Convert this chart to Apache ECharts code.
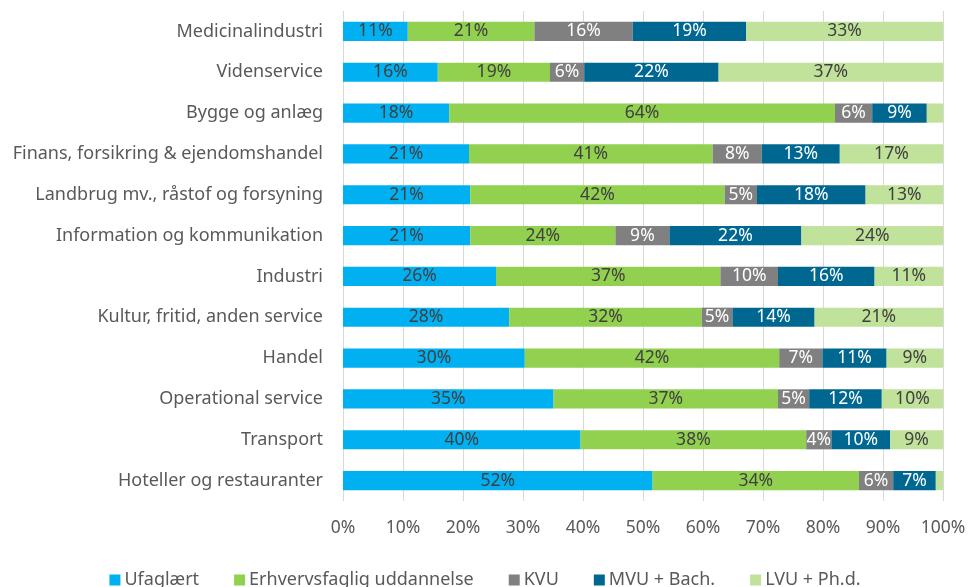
<!DOCTYPE html>
<html><head><meta charset="utf-8">
<script src="https://cdn.jsdelivr.net/npm/echarts@6/dist/echarts.min.js"></script>
<style>html,body{margin:0;padding:0;background:#fff}#c{width:970px;height:587px}</style>
</head><body><div id="c"></div>
<script>
const categories = ["Medicinalindustri","Videnservice","Bygge og anlæg","Finans, forsikring & ejendomshandel","Landbrug mv., råstof og forsyning","Information og kommunikation","Industri","Kultur, fritid, anden service","Handel","Operational service","Transport","Hoteller og restauranter"];
const seriesNames = ["Ufaglært","Erhvervsfaglig uddannelse","KVU","MVU + Bach.","LVU + Ph.d."];
const ufaglaert = [10.8,15.8,17.7,21.0,21.2,21.2,25.5,27.7,30.3,35.1,39.6,51.6];
const erhvervsfaglig = [21.1,18.7,64.3,40.6,42.4,24.2,37.4,32.1,42.4,37.4,37.6,34.4];
const kvu = [16.4,5.7,6.2,8.2,5.4,9.0,9.6,5.1,7.2,5.2,4.2,5.7];
const mvu = [18.9,22.4,9.1,13.0,18.1,22.0,16.1,13.7,10.7,12.1,9.8,7.1];
const lvu = [32.8,37.4,2.7,17.2,12.9,23.6,11.4,21.4,9.4,10.2,8.8,1.2];
const xTicks = [0,10,20,30,40,50,60,70,80,90,100];

const colors = ["#00b0f0","#92d050","#808080","#006890","#c0e29a"];
const labelColors = ["#404040","#404040","#ffffff","#ffffff","#404040"];
const FONT = "Noto Sans";
const data = [ufaglaert, erhvervsfaglig, kvu, mvu, lvu];

const chart = echarts.init(document.getElementById('c'), null, {renderer:'canvas'});
chart.setOption({
  animation:false,
  textStyle:{fontFamily:FONT},
  grid:{left:343, right:27, top:11, bottom:86, containLabel:false},
  xAxis:{type:'value', min:xTicks[0], max:xTicks[xTicks.length-1], interval:10,
    axisLine:{show:false}, axisTick:{show:false},
    splitLine:{show:true, lineStyle:{color:'#d9d9d9', width:1}},
    axisLabel:{formatter:v=>v+'%', color:'#595959', fontSize:17.5, fontFamily:FONT, margin:18}},
  yAxis:{type:'category', data:categories, inverse:true,
    axisLine:{show:false}, axisTick:{show:false},
    axisLabel:{color:'#595959', fontSize:18, fontFamily:FONT, margin:20}},
  legend:{top:566, left:'center', itemWidth:11, itemHeight:11, itemGap:35,
    icon:'rect', textStyle:{color:'#595959', fontSize:18, fontFamily:FONT, padding:[0,0,0,-1]},
    data:seriesNames},
  series: seriesNames.map((n,i)=>({
    name:n, type:'bar', stack:'t', data:data[i], barWidth:'47%',
    itemStyle:{color:colors[i]},
    label:{show:true, position:'inside', color:labelColors[i], fontSize:17.5, fontFamily:FONT,
      formatter:p=> p.value<3 ? '' : Math.round(p.value)+'%'}
  }))
});
</script></body></html>
